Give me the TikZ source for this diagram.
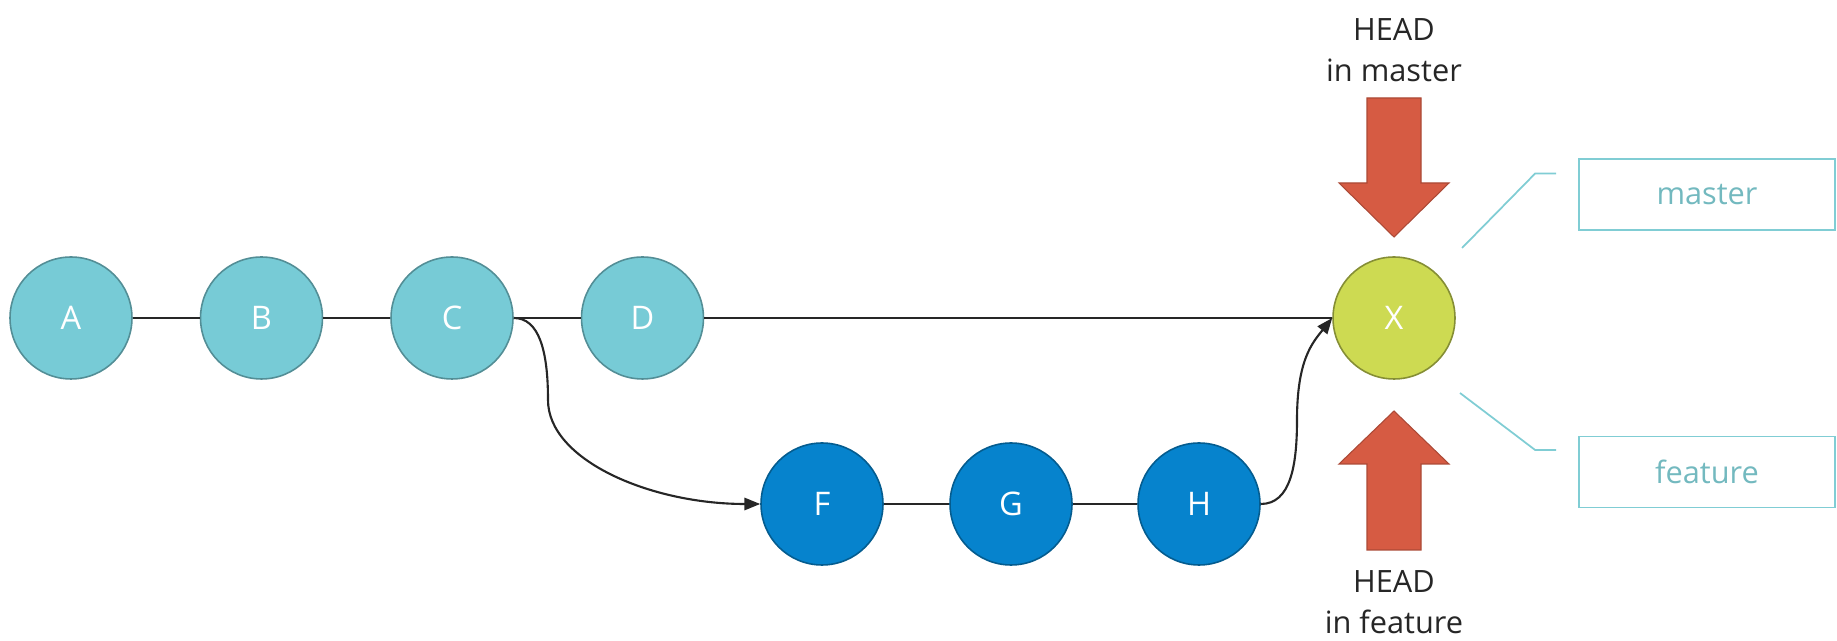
\documentclass[tikz,border=0pt]{standalone}
\usepackage{fontspec}
\setmainfont{Open Sans}
\usetikzlibrary{arrows.meta,calc}

\definecolor{committeal}{HTML}{77CBD6}
\definecolor{commitblue}{HTML}{0683CD}
\definecolor{mergegreen}{HTML}{CDDA52}
\definecolor{headred}{HTML}{D65B43}
\definecolor{labelteal}{HTML}{80CDD4}

\tikzset{
  commit/.style={circle, draw, minimum size=2.44cm, inner sep=0pt, line width=0.9pt,
    text=white, font=\fontsize{18.5}{22}\selectfont},
  mastercommit/.style={commit, fill=committeal, draw=committeal!70!black},
  featurecommit/.style={commit, fill=commitblue, draw=commitblue!70!black},
  mergecommit/.style={commit, fill=mergegreen, draw=mergegreen!65!black},
  link/.style={line width=1.2pt, draw=black!85},
  mergelink/.style={link, -{Triangle[length=9pt,width=7pt]}},
  headarrow/.style={fill=headred, draw=headred!80!black, line width=0.6pt},
  headtext/.style={align=center, text=black!85, font=\fontsize{17.5}{23.5}\selectfont},
  branchlabel/.style={draw=labelteal, line width=1pt, minimum width=5.12cm,
    minimum height=1.42cm, text=labelteal!90!black, font=\fontsize{17.5}{21}\selectfont},
  callout/.style={draw=labelteal, line width=1pt}
}

\begin{document}
\begin{tikzpicture}[x=0.02cm, y=-0.02cm]
  \useasboundingbox (0,0) rectangle (1837,641);
  % Commits on master
  \node[mastercommit] (A) at (71,318) {A};
  \node[mastercommit] (B) at (261.5,318) {B};
  \node[mastercommit] (C) at (452,318) {C};
  \node[mastercommit] (D) at (642.5,318) {D};
  % Commits on feature
  \node[featurecommit] (F) at (822,504) {F};
  \node[featurecommit] (G) at (1011,504) {G};
  \node[featurecommit] (H) at (1199,504) {H};
  % Merge commit
  \node[mergecommit] (X) at (1394,318) {X};
  % Links between commits
  \draw[link] (A) -- (B) -- (C) -- (D) -- (X);
  \draw[link] (F) -- (G) -- (H);
  \draw[mergelink] (C.east) .. controls +(25,0) and +(0,-50) .. (548,400)
    .. controls +(0,60) and +(-110,0) .. (F.west);
  \draw[mergelink] (H.east) .. controls +(30,0) and +(0,45) .. (1297,420)
    .. controls +(0,-60) and +(-20,25) .. (X.west);
  % HEAD arrows
  \draw[headarrow] (1367,98) -- (1421,98) -- (1421,183) -- (1449,183) -- (1394,237)
    -- (1339,183) -- (1367,183) -- cycle;
  \draw[headarrow] (1394,411) -- (1449,464) -- (1421,464) -- (1421,550) -- (1367,550)
    -- (1367,464) -- (1339,464) -- cycle;
  \node[headtext] (headmaster) at (1394,50) {HEAD\\in master};
  \node[headtext] (headfeature) at (1394,602) {HEAD\\in feature};
  % Branch labels
  \node[branchlabel] (master) at (1707,194.5) {master};
  \node[branchlabel] (feature) at (1707,472) {feature};
  \coordinate (mastertail) at ($(master.west)+(-22,-21)$);
  \coordinate (featuretail) at ($(feature.west)+(-22,-22)$);
  \draw[callout] (mastertail) -- ++(-21,0) -- (1462,248);
  \draw[callout] (featuretail) -- ++(-21,0) -- (1460,393);
\end{tikzpicture}
\end{document}
